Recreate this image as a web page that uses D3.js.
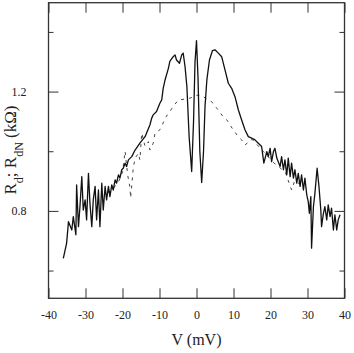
<!DOCTYPE html>
<html>
<head>
<meta charset="utf-8">
<script src="https://cdn.jsdelivr.net/npm/d3@7"></script>
<style>
  body { margin: 0; background: #fff; }
  svg text { font-family: "Times New Roman", "Liberation Serif", "DejaVu Serif", serif; fill: #222; }
</style>
</head>
<body>
<svg id="chart"></svg>
<script>
let w = 354;
let h = 353;

// solid trace R_d vs V
let vSolid = [-36.0,-35.1,-34.6,-33.7,-33.3,-32.6,-32.4,-31.9,-31.5,-31.0,-30.6,-30.1,-29.7,-29.2,-28.8,-28.3,-27.9,-27.4,-27.0,-26.5,-26.1,-25.6,-25.2,-24.7,-24.3,-23.8,-23.4,-22.9,-22.5,-22.0,-21.6,-21.1,-20.7,-20.2,-19.8,-19.3,-18.9,-18.4,-17.5,-16.6,-15.3,-13.9,-12.6,-12.1,-11.7,-10.8,-9.9,-9.4,-9.0,-8.5,-7.6,-7.2,-6.3,-5.8,-5.4,-4.6,-4.0,-3.6,-3.1,-2.6,-2.0,-1.3,-0.8,-0.4,0.0,0.4,0.9,1.4,1.9,2.3,2.8,3.5,4.3,5.0,5.9,6.8,7.7,8.6,9.5,10.4,11.3,12.2,13.1,14.0,14.9,15.8,16.7,17.6,18.2,19.0,19.4,19.9,20.3,20.8,21.2,21.7,22.1,22.6,23.0,23.5,23.9,24.4,24.8,25.3,25.7,26.2,26.6,27.1,27.5,28.0,28.4,28.9,29.3,29.8,30.2,30.5,30.9,31.1,31.6,32.0,32.6,33.1,33.6,33.8,34.3,34.7,35.2,35.6,36.1,36.5,37.0,37.4,37.9,38.3,38.8];
let rSolid = [0.641,0.692,0.764,0.736,0.781,0.72,0.887,0.747,0.814,0.915,0.803,0.837,0.77,0.926,0.826,0.747,0.837,0.882,0.77,0.87,0.747,0.893,0.803,0.882,0.837,0.882,0.848,0.887,0.87,0.904,0.893,0.921,0.91,0.938,0.943,0.96,0.949,0.971,0.982,1.004,1.027,1.049,1.088,1.111,1.122,1.133,1.161,1.172,1.211,1.239,1.278,1.301,1.317,1.323,1.306,1.295,1.323,1.329,1.284,1.217,1.05,0.932,1.1,1.3,1.371,1.25,1.0,0.895,1.0,1.15,1.239,1.306,1.337,1.34,1.329,1.317,1.273,1.228,1.211,1.183,1.139,1.105,1.072,1.049,1.044,1.038,1.027,1.016,0.96,0.999,0.982,1.01,0.965,0.999,1.01,0.977,0.965,0.949,0.982,0.938,0.971,0.921,0.977,0.915,0.96,0.91,0.938,0.893,0.926,0.882,0.921,0.87,0.91,0.854,0.831,0.792,0.848,0.675,0.814,0.859,0.943,0.882,0.803,0.747,0.792,0.814,0.77,0.82,0.781,0.809,0.736,0.787,0.736,0.77,0.787];

// dashed trace R_dN vs V
let vDashed = [-24.0,-22.5,-21.0,-20.0,-19.3,-18.6,-18.0,-17.8,-17.1,-16.6,-15.7,-15.3,-14.8,-13.9,-13.0,-12.6,-11.7,-11.2,-9.9,-9.4,-8.5,-7.2,-6.3,-4.9,-3.0,-1.8,0.5,1.8,3.2,4.1,5.5,7.2,8.2,9.9,11.3,12.2,13.1,14.0,15.0,16.5,18.0,19.5,21.0,22.5,24.0,25.7,26.5,28.0];
let rDashed = [0.86,0.875,0.9,0.93,1.0,0.92,0.88,0.843,0.943,0.977,0.993,0.971,1.061,1.016,1.032,1.004,1.027,1.061,1.072,1.083,1.111,1.133,1.15,1.172,1.175,1.178,1.189,1.183,1.172,1.166,1.144,1.116,1.105,1.072,1.049,1.038,1.021,1.03,1.04,1.02,1.0,0.98,0.96,0.945,0.93,0.87,0.9,0.89];

let xTicks = [-40,-30,-20,-10,0,10,20,30,40];
let yMajor = [0.8, 1.2];
let yMinor = [0.6, 1.0, 1.4];

let svg = d3.select('#chart')
  .attr('width', w)
  .attr('height', h);

let mLeft = 48.5, mRight = 344.5, mTop = 2.7, mBottom = 298.3;

let xScale = d3.scaleLinear().domain([-40, 40]).range([mLeft, mRight]);
let yScale = d3.scaleLinear().domain([0.507, 1.498]).range([mBottom, mTop]);

// ticks, drawn inward on all four sides
let axisStyle = g => {
  g.attr('font-family', null).attr('font-size', 12);
  g.select('.domain').remove();
  g.selectAll('line').attr('stroke', '#333').attr('stroke-width', 1);
  g.selectAll('text').attr('fill', '#222');
};

svg.append('g')
  .attr('transform', `translate(0, ${mBottom})`)
  .call(d3.axisBottom(xScale).tickValues(xTicks).tickSize(-10).tickPadding(12).tickFormat(d => String(d)))
  .call(axisStyle);

svg.append('g')
  .attr('transform', `translate(0, ${mTop})`)
  .call(d3.axisTop(xScale).tickValues(xTicks).tickSize(-10).tickFormat(''))
  .call(axisStyle);

svg.append('g')
  .attr('transform', `translate(${mLeft}, 0)`)
  .call(d3.axisLeft(yScale).tickValues(yMajor).tickSize(-10).tickPadding(22).tickFormat(d3.format('.1f')))
  .call(axisStyle);
svg.append('g')
  .attr('transform', `translate(${mLeft}, 0)`)
  .call(d3.axisLeft(yScale).tickValues(yMinor).tickSize(-5).tickFormat(''))
  .call(axisStyle);
svg.append('g')
  .attr('transform', `translate(${mRight}, 0)`)
  .call(d3.axisRight(yScale).tickValues(yMajor).tickSize(-10).tickFormat(''))
  .call(axisStyle);
svg.append('g')
  .attr('transform', `translate(${mRight}, 0)`)
  .call(d3.axisRight(yScale).tickValues(yMinor).tickSize(-5).tickFormat(''))
  .call(axisStyle);

// frame
svg.append('rect')
  .attr('x', mLeft).attr('y', mTop)
  .attr('width', mRight - mLeft).attr('height', mBottom - mTop)
  .attr('fill', 'none').attr('stroke', '#333').attr('stroke-width', 1.3);

let line = d3.line()
  .x(d => xScale(d[0]))
  .y(d => yScale(d[1]));

svg.append('path')
  .attr('d', line(vDashed.map((v, i) => [v, rDashed[i]])))
  .attr('fill', 'none')
  .attr('stroke', '#444')
  .attr('stroke-width', 1)
  .attr('stroke-dasharray', '3,5');

svg.append('path')
  .attr('d', line(vSolid.map((v, i) => [v, rSolid[i]])))
  .attr('fill', 'none')
  .attr('stroke', '#111')
  .attr('stroke-width', 1.3)
  .attr('stroke-linejoin', 'round');

// axis titles
svg.append('text')
  .attr('x', (mLeft + mRight) / 2)
  .attr('y', 345)
  .attr('text-anchor', 'middle')
  .attr('font-size', 16)
  .text('V (mV)');

let yt = svg.append('text')
  .attr('transform', 'translate(16, 150) rotate(-90)')
  .attr('text-anchor', 'middle')
  .attr('font-size', 17);
yt.append('tspan').text('R');
yt.append('tspan').attr('baseline-shift', 'sub').attr('font-size', 12).text('d');
yt.append('tspan').text('; R');
yt.append('tspan').attr('baseline-shift', 'sub').attr('font-size', 12).text('dN');
yt.append('tspan').text(' (kΩ)');
</script>
</body>
</html>
